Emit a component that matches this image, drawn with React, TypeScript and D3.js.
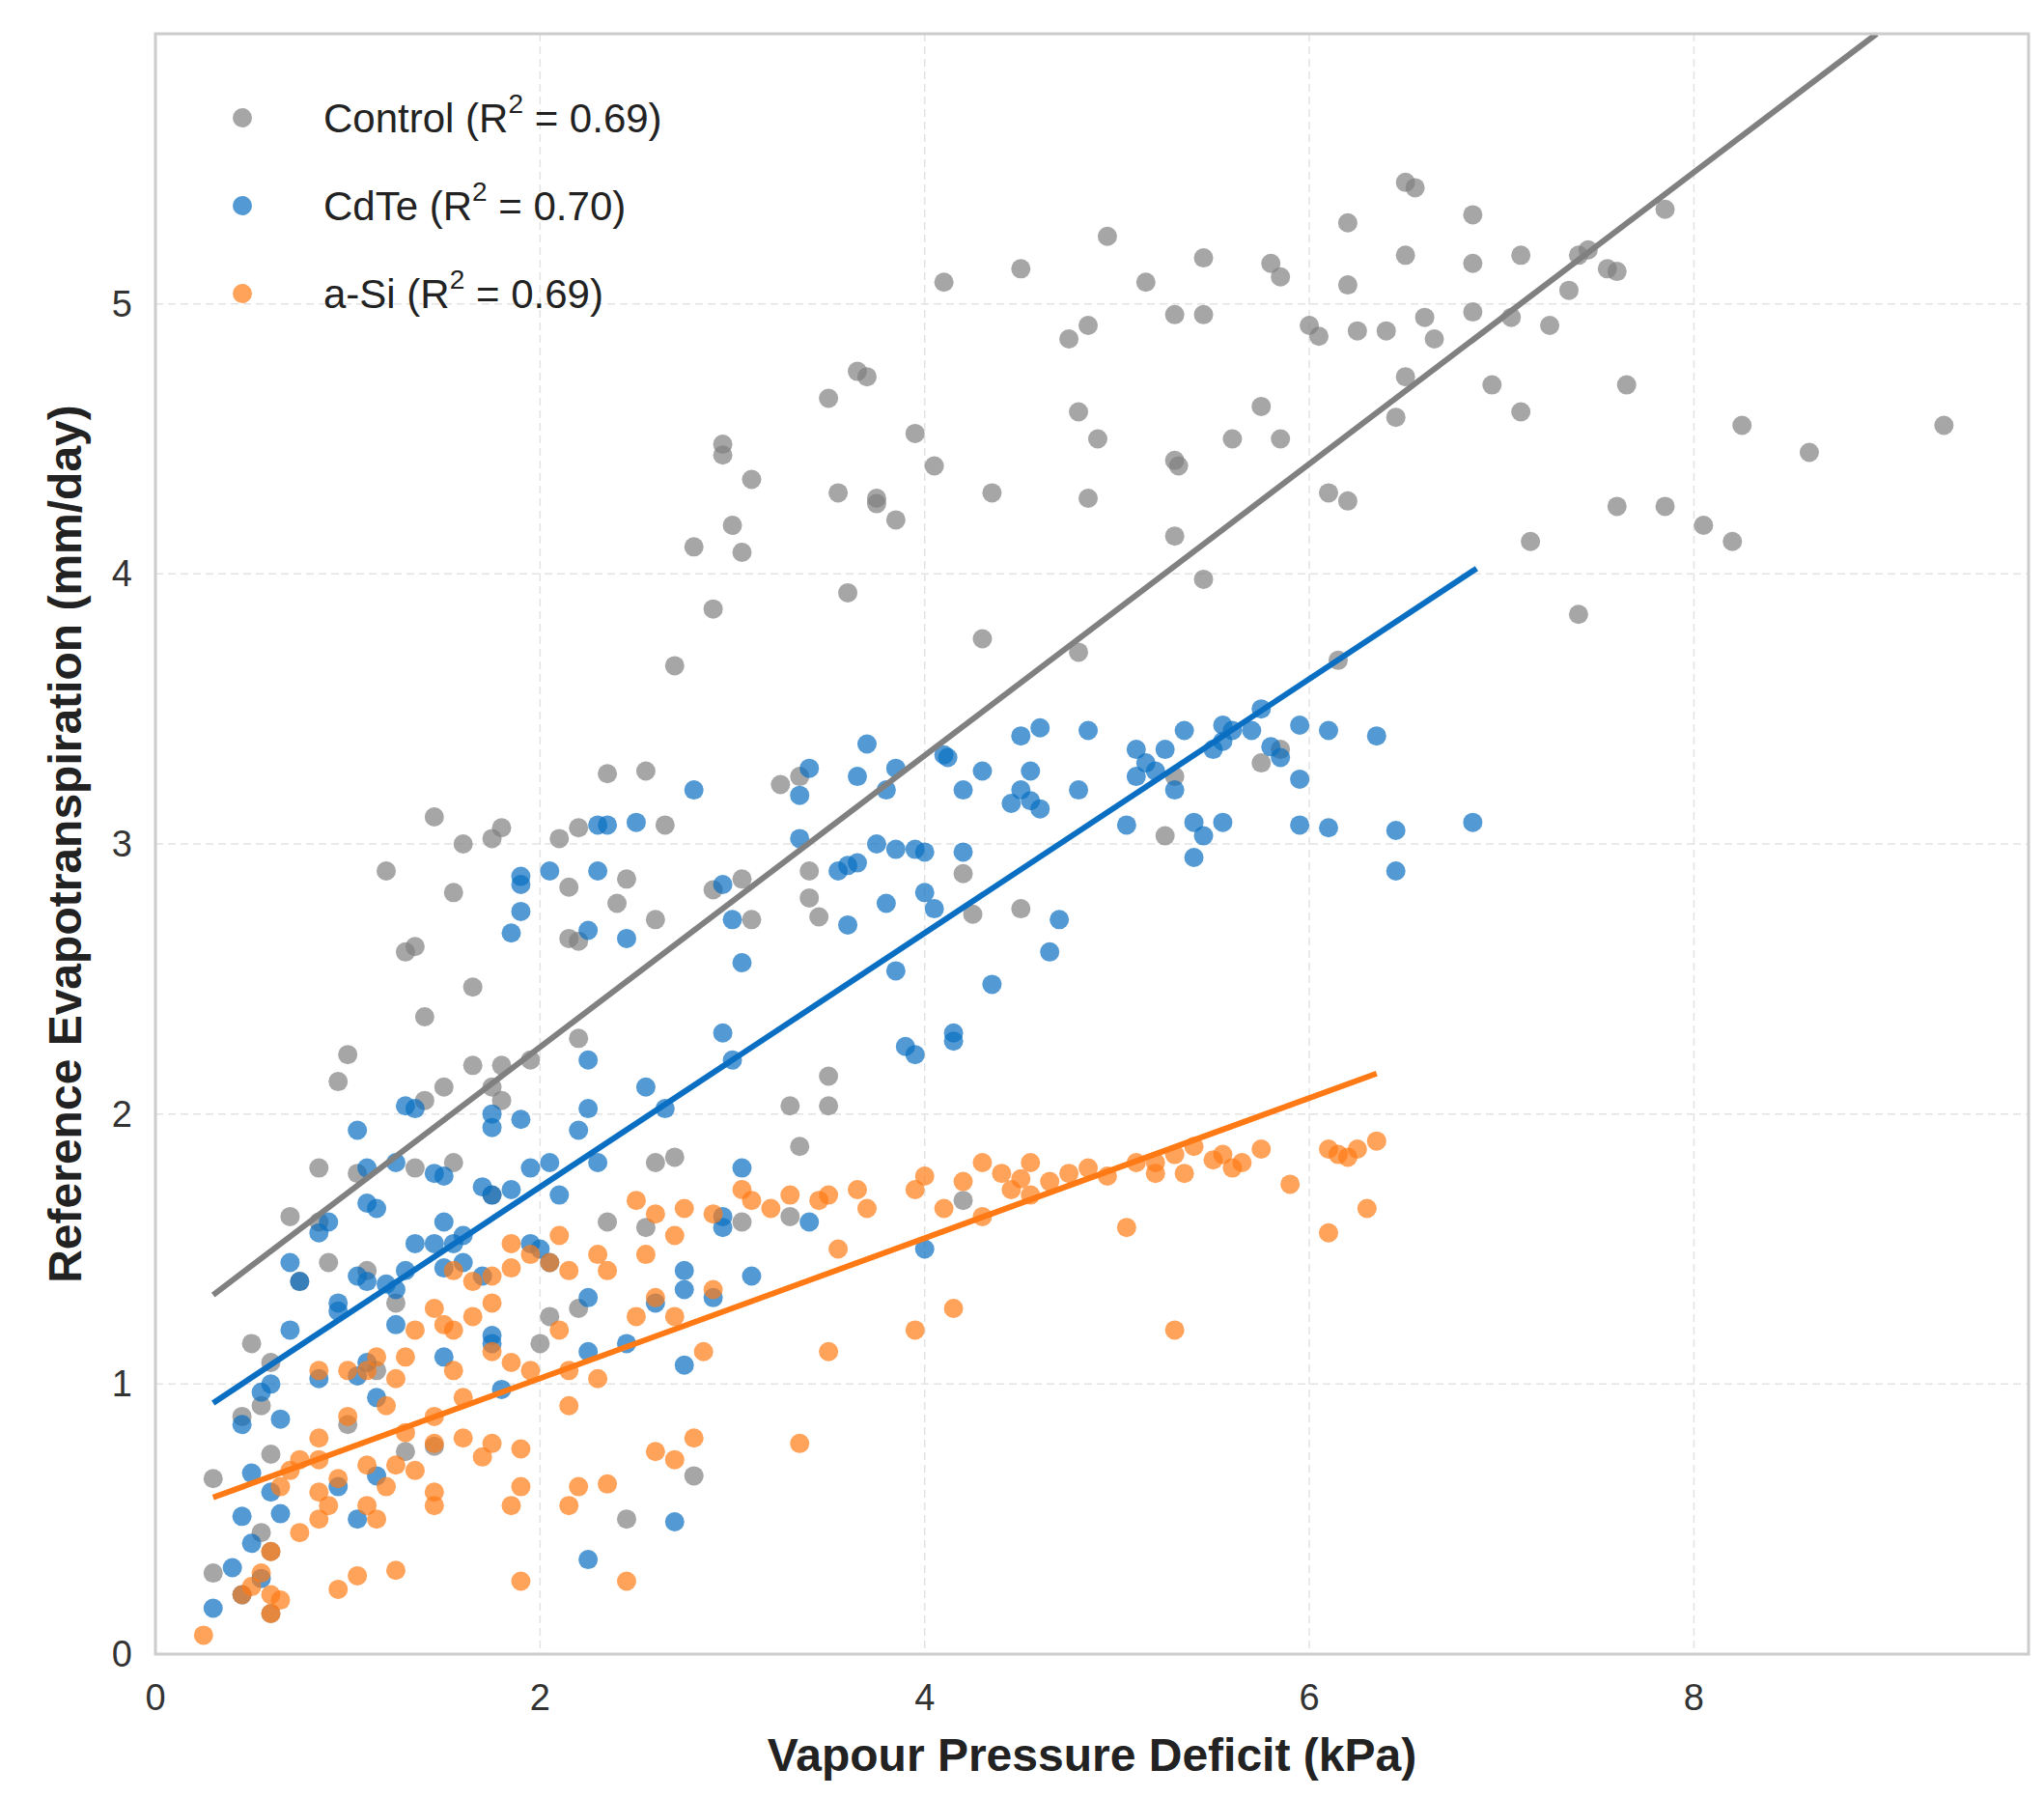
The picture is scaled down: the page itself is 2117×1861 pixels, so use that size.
import * as d3 from "d3";

const W = 2117;
const H = 1861;
const M = { left: 153, right: 2093, top: 27, bottom: 1705 };

const X_TICKS = [0, 2, 4, 6, 8];
const Y_TICKS = [0, 1, 2, 3, 4, 5];

const controlPts: [number, number][] = [
  [9.3,4.55],[8.6,4.45],[8.25,4.55],[8.05,4.18],[8.2,4.12],[7.85,4.25],[7.6,4.25],[7.65,4.7],[7.4,3.85],[7.85,5.35],[7.6,5.12],[7.55,5.13],[7.45,5.2],[7.4,5.18],[7.35,5.05],[7.25,4.92],[7.1,5.18],[7.1,4.6],[7.15,4.12],[7.05,4.95],[6.85,5.33],[6.85,5.15],[6.85,4.97],[6.95,4.7],[6.55,5.43],[6.5,5.45],[6.5,5.18],[6.6,4.95],[6.65,4.87],[6.4,4.9],[6.25,4.9],[6.2,5.3],[6.2,5.07],[6.0,4.92],[6.05,4.88],[6.1,4.3],[6.2,4.27],[6.5,4.73],[6.45,4.58],[5.85,5.1],[5.8,5.15],[5.75,4.62],[5.85,4.5],[5.6,4.5],[5.45,5.17],[5.45,4.96],[5.3,4.96],[5.15,5.08],[4.95,5.25],[4.5,5.13],[4.1,5.08],[4.85,4.92],[4.75,4.87],[4.8,4.6],[4.9,4.5],[4.85,4.28],[5.3,4.42],[5.32,4.4],[5.3,4.14],[5.45,3.98],[4.35,4.3],[4.05,4.4],[3.95,4.52],[3.5,4.65],[3.55,4.3],[3.65,4.75],[3.7,4.73],[3.75,4.28],[3.75,4.26],[3.85,4.2],[3.1,4.35],[2.95,4.48],[2.95,4.44],[3.0,4.18],[3.05,4.08],[2.8,4.1],[2.9,3.87],[3.6,3.93],[4.3,3.76],[4.8,3.71],[6.15,3.68],[2.7,3.66],[1.45,3.1],[1.6,3.0],[1.75,3.02],[1.8,3.06],[1.2,2.9],[1.35,2.62],[1.3,2.6],[1.55,2.82],[2.1,3.02],[2.2,3.06],[2.35,3.26],[2.55,3.27],[2.65,3.07],[2.45,2.87],[2.15,2.84],[2.4,2.78],[2.6,2.72],[2.15,2.65],[2.2,2.64],[1.65,2.47],[1.4,2.36],[2.9,2.83],[3.05,2.87],[3.1,2.72],[3.25,3.22],[3.35,3.25],[3.4,2.9],[3.4,2.8],[3.45,2.73],[4.2,2.89],[4.25,2.74],[4.5,2.76],[5.3,3.25],[5.25,3.03],[5.75,3.3],[5.85,3.35],[1.0,2.22],[0.95,2.12],[1.4,2.05],[1.5,2.1],[1.65,2.18],[1.75,2.1],[1.8,2.05],[1.8,2.18],[1.95,2.2],[2.2,2.28],[3.3,2.03],[3.5,2.14],[3.5,2.03],[3.35,1.88],[2.6,1.82],[2.7,1.84],[1.35,1.8],[1.55,1.82],[1.75,1.7],[0.85,1.8],[1.05,1.78],[0.7,1.62],[0.85,1.6],[1.1,1.42],[0.9,1.45],[0.75,1.38],[1.25,1.3],[2.2,1.28],[2.35,1.6],[2.55,1.58],[3.05,1.6],[3.3,1.62],[4.2,1.68],[0.5,1.15],[0.6,1.08],[0.55,0.92],[0.45,0.88],[0.3,0.65],[0.6,0.74],[1.3,0.75],[1.45,0.77],[0.3,0.3],[0.55,0.45],[0.6,0.38],[2.45,0.5],[2.8,0.66],[1.0,0.85],[1.15,1.05],[2.05,1.25],[2.0,1.15],[0.6,0.15],
];

const cdtePts: [number, number][] = [
  [6.85,3.08],[6.45,3.05],[6.45,2.9],[6.35,3.4],[6.1,3.06],[6.1,3.42],[5.95,3.44],[5.95,3.07],[5.95,3.24],[5.85,3.32],[5.8,3.36],[5.75,3.5],[5.7,3.42],[5.55,3.44],[5.6,3.42],[5.55,3.38],[5.5,3.35],[5.55,3.08],[5.45,3.03],[5.4,3.08],[5.4,2.95],[5.35,3.42],[5.25,3.35],[5.2,3.27],[5.15,3.3],[5.1,3.25],[5.1,3.35],[5.05,3.07],[5.3,3.2],[4.85,3.42],[4.8,3.2],[4.6,3.43],[4.5,3.4],[4.5,3.2],[4.55,3.16],[4.6,3.13],[4.45,3.15],[4.55,3.27],[4.3,3.27],[4.2,3.2],[4.1,3.33],[4.12,3.32],[3.95,2.98],[4.0,2.97],[4.2,2.97],[3.85,2.98],[3.75,3.0],[3.7,3.37],[3.85,3.28],[3.8,3.2],[3.65,3.25],[3.65,2.93],[3.6,2.92],[3.55,2.9],[3.6,2.7],[3.8,2.78],[4.05,2.76],[4.0,2.82],[4.7,2.72],[4.65,2.6],[3.85,2.53],[4.35,2.48],[3.9,2.25],[3.95,2.22],[4.15,2.3],[4.15,2.27],[3.35,3.02],[3.35,3.18],[3.4,3.28],[2.8,3.2],[2.35,3.07],[2.3,3.07],[2.5,3.08],[2.3,2.9],[2.45,2.65],[2.25,2.68],[2.95,2.85],[3.0,2.72],[3.05,2.56],[1.9,2.88],[1.9,2.85],[2.05,2.9],[1.9,2.75],[1.85,2.67],[2.95,2.3],[3.0,2.2],[2.25,2.2],[2.55,2.1],[2.65,2.02],[1.3,2.03],[1.35,2.02],[1.75,2.0],[1.9,1.98],[1.75,1.95],[2.2,1.94],[2.25,2.02],[1.05,1.94],[1.1,1.8],[1.25,1.82],[1.45,1.78],[1.5,1.77],[1.95,1.8],[2.05,1.82],[2.3,1.82],[3.05,1.8],[1.7,1.73],[1.75,1.7],[1.85,1.72],[2.1,1.7],[1.1,1.67],[1.15,1.65],[1.5,1.6],[1.6,1.55],[0.85,1.56],[0.9,1.6],[1.35,1.52],[1.45,1.52],[1.55,1.52],[1.95,1.52],[2.0,1.5],[2.05,1.45],[1.6,1.45],[1.5,1.43],[1.7,1.4],[1.3,1.42],[1.05,1.4],[1.1,1.38],[1.2,1.37],[1.25,1.35],[0.7,1.45],[0.75,1.38],[0.95,1.3],[0.95,1.27],[2.95,1.62],[2.95,1.58],[3.4,1.6],[2.75,1.42],[3.1,1.4],[4.0,1.5],[1.25,1.22],[1.05,1.03],[1.75,1.18],[1.75,1.15],[1.8,0.98],[1.5,1.1],[2.25,1.12],[2.25,1.32],[2.6,1.3],[2.45,1.15],[2.75,1.07],[2.75,1.35],[2.9,1.32],[1.1,1.08],[1.15,0.95],[0.95,0.62],[0.85,1.02],[0.6,1.0],[0.55,0.97],[0.65,0.87],[0.45,0.85],[0.3,0.17],[0.4,0.32],[0.45,0.22],[0.5,0.41],[0.55,0.28],[0.45,0.51],[0.65,0.52],[0.5,0.67],[1.05,0.5],[1.15,0.66],[0.6,0.6],[2.25,0.35],[2.7,0.49],[0.7,1.2],
];

const asiPts: [number, number][] = [
  [6.35,1.9],[6.3,1.65],[6.2,1.84],[6.25,1.87],[6.15,1.85],[6.1,1.87],[6.1,1.56],[5.9,1.74],[5.75,1.87],[5.65,1.82],[5.6,1.8],[5.55,1.85],[5.5,1.83],[5.4,1.88],[5.35,1.78],[5.3,1.85],[5.2,1.82],[5.1,1.82],[5.05,1.58],[5.2,1.78],[4.95,1.77],[4.85,1.8],[4.75,1.78],[4.65,1.75],[4.55,1.82],[4.5,1.76],[4.45,1.72],[4.55,1.7],[4.4,1.78],[4.3,1.82],[4.3,1.62],[4.2,1.75],[4.1,1.65],[4.0,1.77],[3.95,1.72],[3.7,1.65],[3.65,1.72],[3.5,1.7],[3.45,1.68],[3.3,1.7],[3.2,1.65],[3.1,1.68],[3.05,1.72],[2.9,1.63],[2.75,1.65],[2.6,1.63],[2.5,1.68],[2.7,1.55],[2.55,1.48],[2.35,1.42],[2.3,1.48],[2.15,1.42],[2.05,1.45],[2.1,1.55],[1.85,1.52],[1.85,1.43],[1.95,1.48],[1.75,1.3],[1.75,1.4],[1.55,1.42],[1.65,1.38],[1.45,1.28],[1.5,1.22],[1.55,1.2],[1.65,1.25],[1.35,1.2],[1.3,1.1],[1.25,1.02],[1.15,1.1],[1.1,1.05],[1.2,0.92],[1.0,0.88],[1.55,1.05],[1.6,0.95],[1.45,0.88],[1.75,1.12],[1.85,1.08],[1.95,1.05],[2.1,1.2],[2.15,1.05],[2.3,1.02],[2.15,0.92],[2.5,1.25],[2.6,1.32],[2.7,1.25],[2.85,1.12],[2.9,1.35],[3.55,1.5],[3.5,1.12],[3.95,1.2],[4.15,1.28],[5.3,1.2],[3.35,0.78],[2.6,0.75],[2.7,0.72],[2.8,0.8],[1.9,0.76],[1.75,0.78],[1.7,0.73],[1.6,0.8],[1.45,0.78],[1.3,0.82],[1.35,0.68],[1.25,0.7],[1.1,0.7],[0.85,0.8],[0.85,0.72],[0.75,0.72],[0.7,0.68],[0.65,0.62],[0.85,0.6],[0.95,0.65],[0.9,0.55],[1.1,0.55],[1.2,0.62],[1.45,0.6],[1.45,0.55],[1.85,0.55],[1.9,0.62],[2.2,0.62],[2.35,0.63],[2.15,0.55],[0.75,0.45],[0.85,0.5],[1.15,0.5],[0.6,0.38],[0.55,0.3],[0.5,0.25],[0.45,0.22],[0.6,0.22],[0.65,0.2],[0.95,0.24],[1.05,0.29],[1.25,0.31],[1.9,0.27],[2.45,0.27],[0.6,0.15],[0.25,0.07],[0.85,1.05],[1.0,1.05],
];

// fitted lines: [x0, y0, x1, y1]
const controlFit = [0.3, 1.33, 8.95, 6.0];
const cdteFit = [0.3, 0.93, 6.87, 4.02];
const asiFit = [0.3, 0.58, 6.35, 2.15];

const series = [
  { name: "Control", r2: "0.69", color: "#808080", pts: controlPts, fit: controlFit },
  { name: "CdTe", r2: "0.70", color: "#0a6fc2", pts: cdtePts, fit: cdteFit },
  { name: "a-Si", r2: "0.69", color: "#ff7a14", pts: asiPts, fit: asiFit },
];

const FONT = "'Liberation Sans', Arial, sans-serif";

export default function App() {
  const x = d3.scaleLinear().domain([0, 9.74]).range([M.left, M.right]);
  const y = d3.scaleLinear().domain([0, 6.0]).range([M.bottom, M.top]);
  const line = d3.line<number[]>().x((d) => x(d[0])).y((d) => y(d[1]));

  return (
    <svg width={W} height={H} style={{ display: "block", background: "#fff" }} fontFamily={FONT}>
      <defs>
        <clipPath id="plot">
          <rect x={M.left} y={M.top} width={M.right - M.left} height={M.bottom - M.top} />
        </clipPath>
      </defs>
      {X_TICKS.map((t) => (
        <line key={"gx" + t} x1={x(t)} x2={x(t)} y1={M.top} y2={M.bottom} stroke="#e3e3e3" strokeWidth={1.5} strokeDasharray="8,5" />
      ))}
      {Y_TICKS.map((t) => (
        <line key={"gy" + t} x1={M.left} x2={M.right} y1={y(t)} y2={y(t)} stroke="#e3e3e3" strokeWidth={1.5} strokeDasharray="8,5" />
      ))}
      <g clipPath="url(#plot)">
        {series.map((s) => (
          <g key={s.name}>
            {s.pts.map((p, i) => (
              <circle key={i} cx={x(p[0])} cy={y(p[1])} r={10} fill={s.color} fillOpacity={0.7} />
            ))}
          </g>
        ))}
        {series.map((s) => (
          <path
            key={"f" + s.name}
            d={line([[s.fit[0], s.fit[1]], [s.fit[2], s.fit[3]]]) || ""}
            stroke={s.color}
            strokeWidth={6}
            fill="none"
          />
        ))}
      </g>
      <rect x={M.left} y={M.top} width={M.right - M.left} height={M.bottom - M.top} fill="none" stroke="#cccccc" strokeWidth={3} />
      {X_TICKS.map((t) => (
        <text key={"tx" + t} x={x(t)} y={M.bottom + 58} textAnchor="middle" fontSize={38} fill="#333">
          {t}
        </text>
      ))}
      {Y_TICKS.map((t) => (
        <text key={"ty" + t} x={M.left - 24} y={y(t) + 13} textAnchor="end" fontSize={38} fill="#333">
          {t}
        </text>
      ))}
      <text x={(M.left + M.right) / 2} y={1826} textAnchor="middle" fontSize={48} fontWeight="bold" fill="#222">
        Vapour Pressure Deficit (kPa)
      </text>
      <text
        transform={`translate(76, ${(M.top + M.bottom) / 2}) rotate(-90)`}
        textAnchor="middle"
        fontSize={48}
        fontWeight="bold"
        fill="#222"
      >
        Reference Evapotranspiration (mm/day)
      </text>
      {series.map((s, i) => {
        const cy = 114 + i * 91;
        return (
          <g key={"l" + s.name}>
            <circle cx={243} cy={cy} r={10} fill={s.color} fillOpacity={0.7} />
            <text x={327} y={cy + 15} fontSize={42} fill="#222">
              {s.name} (R
              <tspan dy={-20} fontSize={28}>2</tspan>
              <tspan dy={20}> = {s.r2})</tspan>
            </text>
          </g>
        );
      })}
    </svg>
  );
}
